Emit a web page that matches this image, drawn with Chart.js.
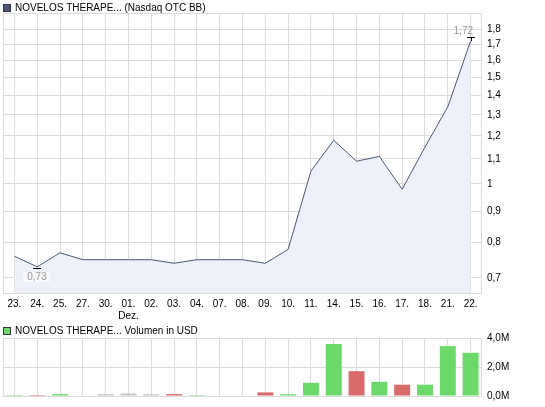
<!DOCTYPE html>
<html>
<head>
<meta charset="utf-8">
<script src="https://cdn.jsdelivr.net/npm/chart.js@4/dist/chart.umd.min.js"></script>
<style>
  body { margin: 0; background: #fff; }
  #wrap { position: relative; width: 545px; height: 407px; }
  canvas { position: absolute; left: 0; }
</style>
</head>
<body>
<div id="wrap">
  <canvas id="kurs" width="545" height="322" style="top:0;width:545px;height:322px"></canvas>
  <canvas id="volumen" width="545" height="85" style="top:322px;width:545px;height:85px"></canvas>
</div>
<script>
// Handelstage (X-Achse)
const tage = ['23.', '24.', '25.', '27.', '30.', ['01.', 'Dez.'], '02.', '03.', '04.', '07.', '08.',
              '09.', '10.', '11.', '14.', '15.', '16.', '17.', '18.', '21.', '22.'];
// Schlusskurse
const kurse = [0.76, 0.73, 0.77, 0.75, 0.75, 0.75, 0.75, 0.74, 0.75, 0.75, 0.75,
               0.74, 0.78, 1.05, 1.18, 1.09, 1.11, 0.98, 1.15, 1.34, 1.72];
// Volumen in USD
const volumen = [70000, 70000, 130000, 0, 130000, 170000, 120000, 130000, 70000, 0, 0,
                 250000, 120000, 910000, 3580000, 1710000, 980000, 780000, 780000, 3440000, 2980000];
// Achsenbeschriftung Kurs
const kursTicks = [0.7, 0.8, 0.9, 1, 1.1, 1.2, 1.3, 1.4, 1.5, 1.6, 1.7, 1.8];

const GRID = '#dcdcdc';
const FONT = '"Liberation Sans", Arial, sans-serif';
Chart.defaults.font.family = FONT;
Chart.defaults.font.size = 10;
Chart.defaults.color = '#000';

const komma = v => String(v).replace('.', ',');

// Rahmen um die Zeichenfläche
const rahmen = {
  id: 'rahmen',
  beforeDatasetsDraw(chart) {
    const a = chart.chartArea, ctx = chart.ctx;
    ctx.save();
    ctx.strokeStyle = GRID;
    ctx.lineWidth = 1;
    ctx.strokeRect(Math.round(a.left) + 0.5, Math.round(a.top) + 0.5,
                   Math.round(a.right - a.left) - 1, Math.round(a.bottom - a.top));
    ctx.restore();
  }
};

// Überschrift mit Kästchen
const ueberschrift = {
  id: 'ueberschrift',
  afterDraw(chart, args, opts) {
    const ctx = chart.ctx;
    ctx.save();
    ctx.fillStyle = opts.farbe;
    ctx.fillRect(3, opts.y - 4, 8, 8);
    ctx.strokeStyle = '#333';
    ctx.strokeRect(3.5, opts.y - 3.5, 7, 7);
    ctx.fillStyle = '#000';
    ctx.font = '10px ' + FONT;
    ctx.textBaseline = 'middle';
    ctx.fillText(opts.text, 15, opts.y);
    ctx.restore();
  }
};

// Markierung von Hoch und Tief
const extrema = {
  id: 'extrema',
  afterDatasetsDraw(chart) {
    const x = chart.scales.x, y = chart.scales.y, ctx = chart.ctx;
    const iMax = kurse.indexOf(Math.max(...kurse));
    const iMin = kurse.indexOf(Math.min(...kurse));
    ctx.save();
    ctx.strokeStyle = '#000';
    ctx.lineWidth = 1;
    ctx.font = '10px ' + FONT;
    ctx.textBaseline = 'middle';

    let px = Math.round(x.getPixelForValue(iMax)), py = Math.round(y.getPixelForValue(kurse[iMax]));
    ctx.beginPath();
    ctx.moveTo(px - 4, py - 3.5); ctx.lineTo(px + 4, py - 3.5);
    ctx.moveTo(px + 0.5, py - 3.5); ctx.lineTo(px + 0.5, py);
    ctx.stroke();
    ctx.fillStyle = '#999';
    ctx.textAlign = 'right';
    ctx.fillText(komma(kurse[iMax]), px + 2, py - 10);

    px = Math.round(x.getPixelForValue(iMin)); py = Math.round(y.getPixelForValue(kurse[iMin]));
    ctx.beginPath();
    ctx.moveTo(px - 4, py + 1.5); ctx.lineTo(px + 4, py + 1.5);
    ctx.stroke();
    ctx.fillStyle = 'rgba(255,255,255,0.6)';
    ctx.fillRect(px - 14, py + 5, 27, 10);
    ctx.fillStyle = '#999';
    ctx.textAlign = 'center';
    ctx.fillText(komma(kurse[iMin]), px, py + 10);
    ctx.restore();
  }
};

new Chart(document.getElementById('kurs'), {
  type: 'line',
  data: {
    labels: tage,
    datasets: [{
      data: kurse,
      borderColor: '#4b5674',
      borderWidth: 1,
      backgroundColor: '#eef1fa',
      fill: 'start',
      pointRadius: 0,
      tension: 0
    }]
  },
  options: {
    responsive: false,
    animation: false,
    layout: { padding: { left: 3, top: 13, right: 0, bottom: 0 } },
    plugins: {
      legend: { display: false },
      tooltip: { enabled: false },
      ueberschrift: { text: 'NOVELOS THERAPE... (Nasdaq OTC BB)', farbe: '#4b5674', y: 8 }
    },
    scales: {
      x: {
        offset: true,
        grid: { color: GRID, offset: false, drawTicks: false },
        border: { display: false },
        ticks: { padding: 5, maxRotation: 0, autoSkip: false },
        afterFit: s => { s.height = 29; }
      },
      y: {
        type: 'logarithmic',
        position: 'right',
        min: 0.661,
        max: 1.913,
        bounds: 'data',
        grid: { color: GRID, drawTicks: false },
        border: { display: false },
        ticks: { padding: 5, crossAlign: 'near', autoSkip: false, callback: v => komma(v) },
        afterBuildTicks: s => { s.ticks = kursTicks.map(v => ({ value: v })); },
        afterFit: s => { s.width = 63; }
      }
    }
  },
  plugins: [rahmen, ueberschrift, extrema]
});

// Farbe je nach Kursveränderung zum Vortag
const balkenFarben = kurse.map((k, i) => {
  if (i === 0 || k > kurse[i - 1]) return '#6ad96a';
  if (k < kurse[i - 1]) return '#d96a6a';
  return '#c4c4c4';
});

new Chart(document.getElementById('volumen'), {
  type: 'bar',
  data: {
    labels: tage,
    datasets: [{
      data: volumen,
      backgroundColor: balkenFarben,
      barPercentage: 0.7,
      categoryPercentage: 1.0
    }]
  },
  options: {
    responsive: false,
    animation: false,
    layout: { padding: { left: 3, top: 16, right: 0, bottom: 0 } },
    plugins: {
      legend: { display: false },
      tooltip: { enabled: false },
      ueberschrift: { text: 'NOVELOS THERAPE... Volumen in USD', farbe: '#6ad96a', y: 9 }
    },
    scales: {
      x: {
        grid: { color: GRID, offset: false, drawTicks: false },
        border: { display: false },
        ticks: { display: false },
        afterFit: s => { s.height = 9; }
      },
      y: {
        position: 'right',
        min: 0,
        max: 4000000,
        grid: { color: GRID, drawTicks: false },
        border: { display: false },
        ticks: {
          padding: 5,
          crossAlign: 'near',
          stepSize: 2000000,
          callback: v => (v / 1000000).toFixed(1).replace('.', ',') + 'M'
        },
        afterFit: s => { s.width = 63; }
      }
    }
  },
  plugins: [rahmen, ueberschrift]
});
</script>
</body>
</html>
